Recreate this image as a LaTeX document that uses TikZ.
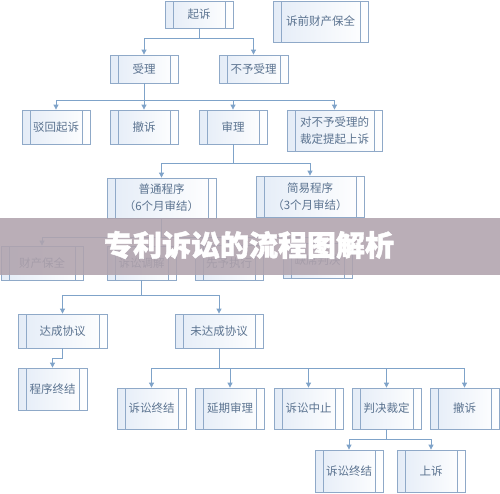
\documentclass[tikz,border=0pt]{standalone}
\usepackage{fontspec}
\usepackage{xcolor}
\usepackage{tikz}
\usetikzlibrary{arrows.meta,calc,positioning}
\newfontfamily\cjk{Noto Sans CJK SC}
\newfontfamily\cjkhead{Noto Sans CJK SC}[BoldFeatures={FakeBold=1.6}]
\definecolor{edge}{HTML}{8FA9C8}
\definecolor{wire}{HTML}{7FA3C9}
\definecolor{ink}{HTML}{5B7390}
\definecolor{boxl}{HTML}{E4ECF7}
\definecolor{band}{RGB}{176,163,173}
\tikzset{
  proc/.style={draw=edge,line width=0.8pt,left color=boxl,right color=white,
    text=ink,inner sep=0pt,align=center,
    font=\cjk\fontsize{11.5}{17}\selectfont,
    path picture={
      \draw[edge,line width=0.8pt] ([xshift=8pt]path picture bounding box.north west)--([xshift=8pt]path picture bounding box.south west);
      \draw[edge,line width=0.8pt] ([xshift=-8pt]path picture bounding box.north east)--([xshift=-8pt]path picture bounding box.south east);}},
  wirel/.style={draw=wire,line width=0.8pt},
  arr/.style={wirel,-{Triangle[length=5pt,width=5pt]}}
}
\begin{document}
\begin{tikzpicture}[x=1pt,y=-1pt]
  \useasboundingbox (0,0) rectangle (500,493);
  \node[proc,minimum width=68pt,minimum height=27pt] (qisu) at (199,14.5) {起诉};
  \node[proc,minimum width=95pt,minimum height=41pt] (suqian) at (320.5,21.5) {诉前财产保全};
  \node[proc,minimum width=68pt,minimum height=28pt] (shouli) at (144,69) {受理};
  \node[proc,minimum width=69pt,minimum height=28pt] (buyu) at (253.5,69) {不予受理};
  \foreach \n/\x/\t in {bohui/56/驳回起诉,chesu/144/撤诉,shenli/233/审理}
    \node[proc,minimum width=68pt,minimum height=34pt] (\n) at (\x,127) {\t};
  \node[proc,minimum width=95pt,minimum height=41pt] (shangsu) at (334.5,130.5) {对不予受理的\\裁定提起上诉};
  \node[proc,minimum width=109pt,minimum height=40pt] (putong) at (161.5,198) {普通程序\\（6个月审结）};
  \node[proc,minimum width=108pt,minimum height=41pt] (jianyi) at (310,196.5) {简易程序\\（3个月审结）};
  \node[proc,minimum width=82pt,minimum height=34pt] (caichan) at (42,263) {财产保全};
  \node[proc,minimum width=69pt,minimum height=34pt] (tiaojie) at (141.5,263) {诉讼调解};
  \node[proc,minimum width=68pt,minimum height=35pt] (xianyu) at (229,263) {先予执行};
  \node[proc,minimum width=69pt,minimum height=35pt] (quexi) at (317.5,260.5) {缺席判决};
  \node[proc,minimum width=89pt,minimum height=34pt] (dacheng) at (62.5,331) {达成协议};
  \node[proc,minimum width=88pt,minimum height=34pt] (weida) at (219,331) {未达成协议};
  \node[proc,minimum width=69pt,minimum height=42pt] (zhongjie) at (52.5,389) {程序终结};
  \foreach \n/\x/\t in {jieshu/151.5/诉讼终结,yanqi/230/延期审理,zhongzhi/308.5/诉讼中止,panjue/386.5/判决裁定,chesub/464.5/撤诉}
    \node[proc,minimum width=69pt,minimum height=41pt] (\n) at (\x,408.5) {\t};
  \node[proc,minimum width=68pt,minimum height=42pt] (jieshub) at (349,471) {诉讼终结};
  \node[proc,minimum width=68pt,minimum height=42pt] (shangsub) at (431,471) {上诉};

  \draw[wirel] (qisu.south)--++(0,10) coordinate (b1);
  \foreach \n in {shouli,buyu} \draw[arr] (b1)-|(\n.north);
  \draw[wirel] (shouli.south)--++(0,17) coordinate (b2);
  \foreach \n in {bohui,chesu,shenli,shangsu} \draw[arr] (b2)-|(\n.north);
  \draw[wirel] (shenli.south)--++(0,19) coordinate (b3);
  \foreach \n in {putong,jianyi} \draw[arr] (b3)-|(\n.north);
  \draw[wirel] (putong.south)--++(0,19) coordinate (b4);
  \foreach \n in {caichan,tiaojie,xianyu,quexi} \draw[arr] (b4)-|(\n.north);
  \draw[wirel] (tiaojie.south)--++(0,15) coordinate (b5);
  \foreach \n in {dacheng,weida} \draw[arr] (b5)-|(\n.north);
  \draw[arr] (dacheng.south)--++(0,10)-|(zhongjie.north);
  \draw[wirel] (weida.south)--++(0,20) coordinate (b6);
  \foreach \n in {jieshu,yanqi,zhongzhi,panjue,chesub} \draw[arr] (b6)-|(\n.north);
  \draw[wirel] (panjue.south)--++(0,10) coordinate (b7);
  \foreach \n in {jieshub,shangsub} \draw[arr] (b7)-|(\n.north);

  \fill[band,opacity=0.88] (0,218) rectangle (500,275);
  \node[text=white,font=\cjkhead\bfseries\fontsize{29}{29}\selectfont] (title) at (249,245) {专利诉讼的流程图解析};
\end{tikzpicture}
\end{document}
